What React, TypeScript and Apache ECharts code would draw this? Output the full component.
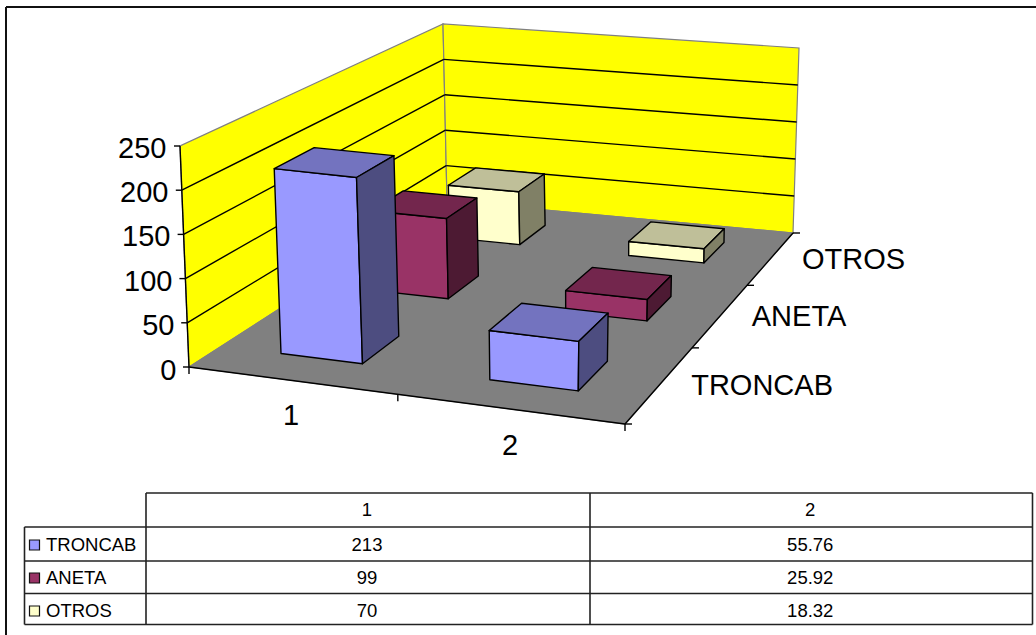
import React, { useEffect, useRef } from "react";
import * as echarts from "echarts";

const categories = ["1", "2"];
const depthNames = ["TRONCAB", "ANETA", "OTROS"];
const troncab = [213, 55.76];
const aneta = [99, 25.92];
const otros = [70, 18.32];
const seriesValues = [troncab, aneta, otros];
const seriesFront = ["#9999FF", "#993366", "#FFFFCC"];
const seriesTop = ["#7373BF", "#73264D", "#BFBF99"];
const seriesSide = ["#4D4D80", "#4D1A33", "#808066"];
const yTicks = [0, 50, 100, 150, 200, 250];
const yMax = 250;

const FONT = "Liberation Sans";
const INK = "#000";
const LINE = 1.4;

type P = [number, number];

function homography(p0: P, p1: P, p2: P, p3: P) {
  const dx1 = p1[0] - p2[0], dx2 = p3[0] - p2[0], sx = p0[0] - p1[0] + p2[0] - p3[0];
  const dy1 = p1[1] - p2[1], dy2 = p3[1] - p2[1], sy = p0[1] - p1[1] + p2[1] - p3[1];
  const den = dx1 * dy2 - dx2 * dy1;
  const g = (sx * dy2 - dx2 * sy) / den;
  const h = (dx1 * sy - sx * dy1) / den;
  const a = p1[0] - p0[0] + g * p1[0], b = p3[0] - p0[0] + h * p3[0], c = p0[0];
  const d = p1[1] - p0[1] + g * p1[1], e = p3[1] - p0[1] + h * p3[1], f = p0[1];
  return (u: number, v: number): P => {
    const w = g * u + h * v + 1;
    return [(a * u + b * v + c) / w, (d * u + e * v + f) / w];
  };
}

// corners of the 3D box, floor and top plane: front-left, front-right, back-right, back-left
const floorAt = homography([189, 367], [625, 424], [793, 233], [447, 201]);
const roofAt = homography([180, 146], [632, 196], [799, 48], [443, 24]);
const project = (u: number, v: number, t: number): P => {
  const a = floorAt(u, v), b = roofAt(u, v);
  return [a[0] + (b[0] - a[0]) * t, a[1] + (b[1] - a[1]) * t];
};

const GRID = { left: 181.5, top: 146, width: 438, height: 222 };
const BAR_START = 0.3;
const BAR_END = 0.7;

function makeRenderItem(depth: number) {
  return (_params: any, api: any) => {
    const cat = api.value(0);
    const val = api.value(1);
    const t = (api.coord([cat, 0])[1] - api.coord([cat, val])[1]) / GRID.height;
    const nc = categories.length, nd = depthNames.length;
    const u0 = (cat + BAR_START) / nc, u1 = (cat + BAR_END) / nc;
    const v0 = (depth + BAR_START) / nd, v1 = (depth + BAR_END) / nd;
    const poly = (points: P[], fill: string) => ({
      type: "polygon",
      shape: { points },
      style: { fill, stroke: INK, lineWidth: LINE, lineJoin: "round" },
    });
    return {
      type: "group",
      children: [
        poly([project(u0, v0, 0), project(u1, v0, 0), project(u1, v0, t), project(u0, v0, t)], seriesFront[depth]),
        poly([project(u0, v0, t), project(u1, v0, t), project(u1, v1, t), project(u0, v1, t)], seriesTop[depth]),
        poly([project(u1, v0, 0), project(u1, v1, 0), project(u1, v1, t), project(u1, v0, t)], seriesSide[depth]),
      ],
    };
  };
}

const seg = (a: P, b: P, stroke = INK, lineWidth = LINE) => ({
  type: "line",
  shape: { x1: a[0], y1: a[1], x2: b[0], y2: b[1] },
  style: { stroke, lineWidth },
});
const wall = (points: P[], fill: string, stroke: string) => ({
  type: "polygon",
  shape: { points },
  style: { fill, stroke, lineWidth: 1.2 },
});

function backdrop() {
  const out: any[] = [];
  out.push(seg([6, 7], [1036, 7], "#111", 2));
  out.push(seg([6, 7], [6, 635], "#111", 2));
  out.push(wall([project(0, 0, 0), project(0, 1, 0), project(0, 1, 1), project(0, 0, 1)], "#FFFF00", "#808080"));
  out.push(wall([project(0, 1, 0), project(1, 1, 0), project(1, 1, 1), project(0, 1, 1)], "#FFFF00", "#808080"));
  out.push(wall([project(0, 0, 0), project(1, 0, 0), project(1, 1, 0), project(0, 1, 0)], "#808080", "#808080"));
  yTicks.forEach((tick) => {
    const t = tick / yMax;
    const a = project(0, 0, t);
    out.push(seg([a[0] - 6, a[1]], a));
    if (tick > 0 && tick < yMax) {
      out.push(seg(a, project(0, 1, t)));
      out.push(seg(project(0, 1, t), project(1, 1, t)));
    }
  });
  out.push(seg(project(0, 0, 0), project(0, 0, 1)));
  out.push(seg(project(0, 0, 0), project(1, 0, 0)));
  out.push(seg(project(1, 0, 0), project(1, 1, 0)));
  for (let i = 0; i <= categories.length; i++) {
    const a = project(i / categories.length, 0, 0);
    out.push(seg(a, [a[0], a[1] + 7]));
  }
  for (let i = 0; i <= depthNames.length; i++) {
    const a = project(1, i / depthNames.length, 0);
    out.push(seg(a, [a[0] + 7, a[1]]));
  }
  depthNames.forEach((name, i) => {
    const a = project(1, (i + 0.5) / depthNames.length, 0);
    out.push({
      type: "text",
      x: a[0] + 31,
      y: a[1] + 1,
      style: { text: name, fill: INK, font: `29px "${FONT}"`, textAlign: "left", textVerticalAlign: "middle" },
    });
  });
  return out;
}

const TABLE = {
  xs: [24.5, 146, 590, 1032.5],
  ys: [493, 527, 561, 593.5, 624.5],
  rowCenters: [509, 544.5, 577.5, 610.5],
};

function tableElements() {
  const out: any[] = [];
  const { xs, ys, rowCenters } = TABLE;
  const c = "#222";
  out.push(seg([xs[1], ys[0]], [xs[3], ys[0]], c, 1.6));
  ys.slice(1).forEach((y) => out.push(seg([xs[0], y], [xs[3], y], c, 1.6)));
  out.push(seg([xs[0], ys[1]], [xs[0], ys[4]], c, 1.6));
  xs.slice(1).forEach((x) => out.push(seg([x, ys[0]], [x, ys[4]], c, 1.6)));
  const cell = (text: string, x: number, y: number, align: string) => ({
    type: "text",
    x,
    y,
    style: { text, fill: INK, font: `18.5px "${FONT}"`, textAlign: align, textVerticalAlign: "middle" },
  });
  categories.forEach((name, i) => out.push(cell(name, (xs[i + 1] + xs[i + 2]) / 2 - 1, rowCenters[0], "center")));
  depthNames.forEach((name, r) => {
    const y = rowCenters[r + 1];
    out.push({
      type: "rect",
      shape: { x: 29.5, y: y - 4.5, width: 10, height: 10 },
      style: { fill: seriesFront[r], stroke: "#111", lineWidth: 1.2 },
    });
    out.push(cell(name, 46, y, "left"));
    seriesValues[r].forEach((v, i) => out.push(cell(String(v), (xs[i + 1] + xs[i + 2]) / 2 - 1, y, "center")));
  });
  return out;
}

export default function App() {
  const ref = useRef<HTMLDivElement>(null);
  useEffect(() => {
    document.body.style.margin = "0";
    const chart = echarts.init(ref.current!, undefined, { renderer: "svg" });
    const yRich: any = {};
    yTicks.forEach((t) => {
      yRich["t" + t] = {
        fontSize: 29,
        fontFamily: FONT,
        color: INK,
        padding: [3, (t / yMax) * 10, 0, 0],
      };
    });
    const xRich: any = {};
    categories.forEach((_, i) => {
      xRich["c" + i] = {
        fontSize: 29,
        fontFamily: FONT,
        color: INK,
        padding: [i * 30, 0, 0, 0],
      };
    });
    chart.setOption({
      animation: false,
      backgroundColor: "#fff",
      graphic: { elements: [...backdrop(), ...tableElements()] },
      grid: { ...GRID },
      xAxis: {
        type: "category",
        data: categories,
        axisLine: { show: false },
        axisTick: { show: false },
        axisLabel: {
          margin: 32,
          formatter: (v: string) => `{c${categories.indexOf(v)}|${v}}`,
          rich: xRich,
        },
      },
      yAxis: {
        type: "value",
        min: 0,
        max: yMax,
        interval: 50,
        axisLine: { show: false },
        axisTick: { show: false },
        splitLine: { show: false },
        axisLabel: {
          margin: 5,
          formatter: (v: number) => `{t${v}|${v}}`,
          rich: yRich,
        },
      },
      series: [2, 1, 0].map((depth) => ({
        type: "custom",
        name: depthNames[depth],
        coordinateSystem: "cartesian2d",
        clip: false,
        encode: { x: 0, y: 1 },
        data: seriesValues[depth].map((v, i) => [i, v]),
        renderItem: makeRenderItem(depth),
      })),
    });
    return () => chart.dispose();
  }, []);
  return <div ref={ref} style={{ width: 1036, height: 635 }} />;
}
